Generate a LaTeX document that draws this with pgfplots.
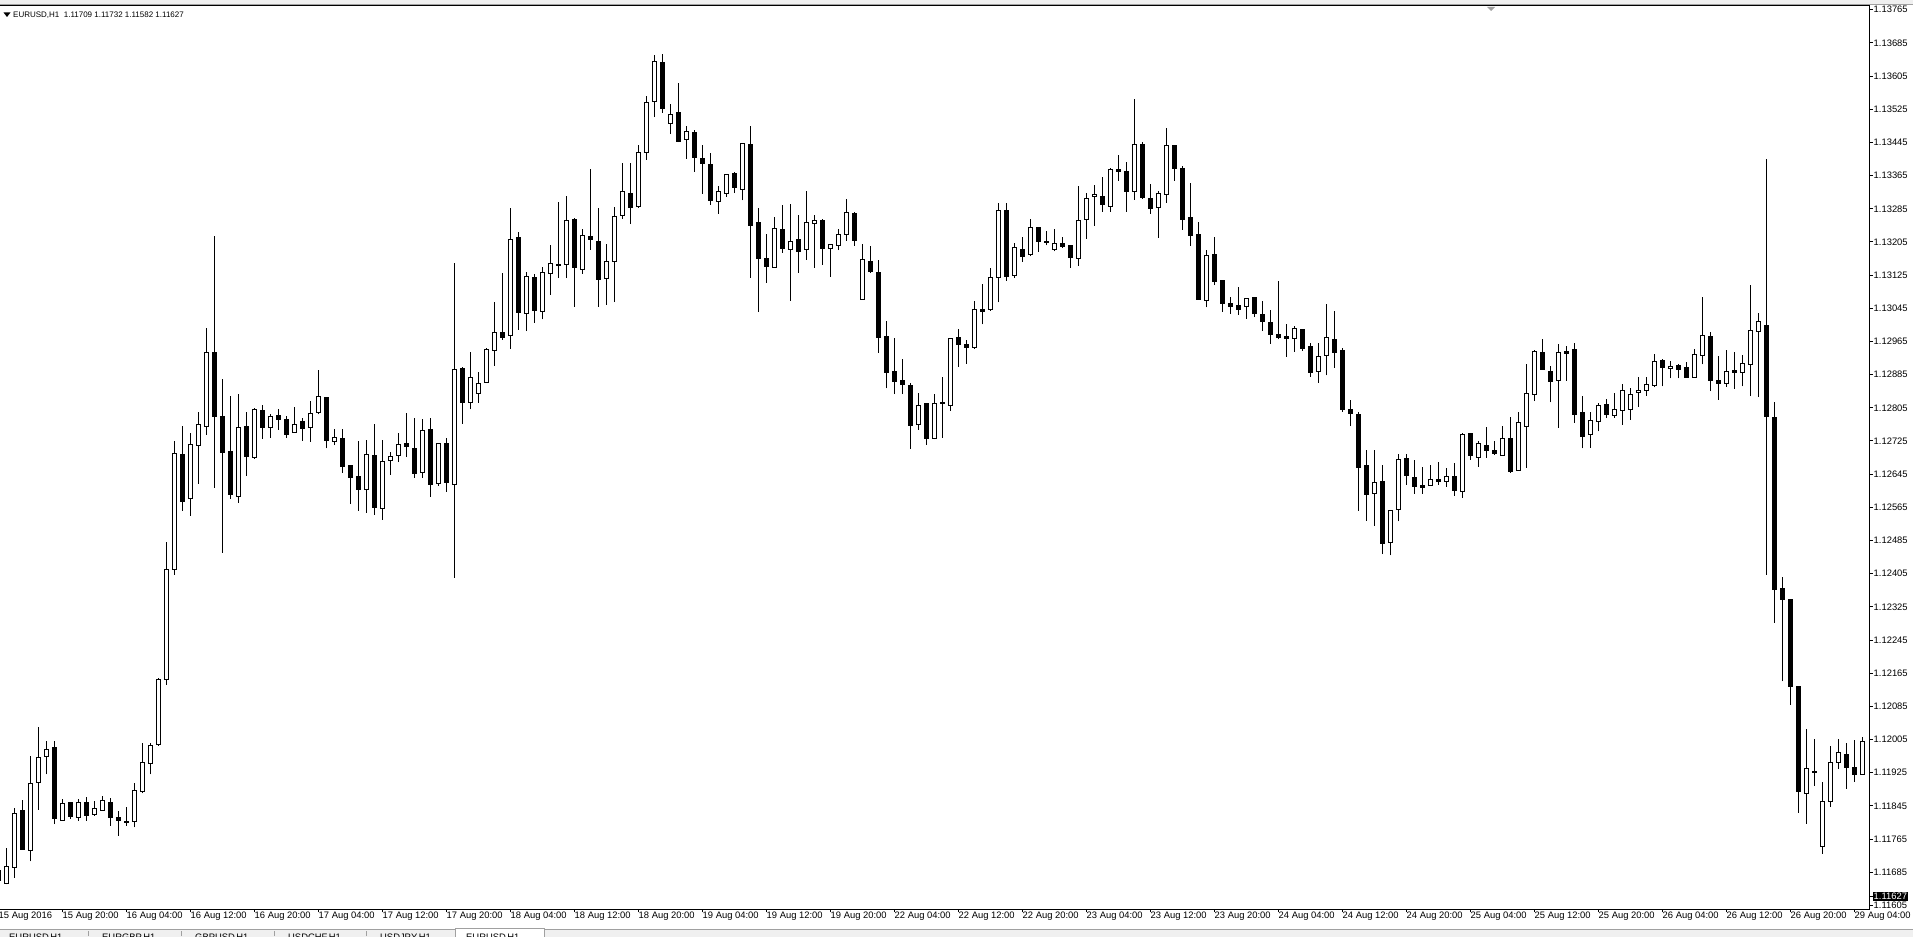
\documentclass[border=0pt]{standalone}
\usepackage{fontspec}
\setmainfont{Liberation Sans}
\usepackage{pgfplots}
\usepackage{pgfplotstable}
\pgfplotsset{compat=1.18}
\newcommand\tf{\fontsize{9.4bp}{10bp}\selectfont}
\newcommand\hf{\fontsize{8bp}{9bp}\selectfont}
\definecolor{tabgrey}{RGB}{240,240,240}
\definecolor{tabline}{RGB}{160,160,160}
\pgfplotstableread{
k o h l c
-1 1.11689 1.11695 1.11655 1.11664
0 1.11658 1.11744 1.11656 1.11700
1 1.11697 1.11839 1.11672 1.11827
2 1.11833 1.11859 1.11739 1.11739
3 1.11738 1.11965 1.11711 1.11899
4 1.11902 1.12035 1.11836 1.11962
5 1.11965 1.12002 1.11921 1.11981
6 1.11987 1.12002 1.11801 1.11814
7 1.11810 1.11862 1.11810 1.11851
8 1.11854 1.11854 1.11814 1.11819
9 1.11817 1.11862 1.11809 1.11854
10 1.11852 1.11866 1.11809 1.11821
11 1.11825 1.11857 1.11821 1.11839
12 1.11834 1.11869 1.11834 1.11858
13 1.11854 1.11864 1.11797 1.11817
14 1.11816 1.11833 1.11773 1.11809
15 1.11806 1.11842 1.11797 1.11807
16 1.11808 1.11900 1.11793 1.11883
17 1.11879 1.11997 1.11875 1.11950
18 1.11948 1.11996 1.11921 1.11991
19 1.11993 1.12153 1.11990 1.12150
20 1.12149 1.12482 1.12137 1.12416
21 1.12416 1.12725 1.12402 1.12695
22 1.12693 1.12761 1.12557 1.12579
23 1.12586 1.12744 1.12545 1.12717
24 1.12715 1.12794 1.12622 1.12765
25 1.12760 1.12997 1.12740 1.12939
26 1.12939 1.13219 1.12612 1.12784
27 1.12784 1.12874 1.12456 1.12697
28 1.12700 1.12834 1.12586 1.12596
29 1.12591 1.12838 1.12576 1.12758
30 1.12760 1.12794 1.12641 1.12687
31 1.12685 1.12805 1.12682 1.12802
32 1.12799 1.12811 1.12731 1.12757
33 1.12758 1.12789 1.12733 1.12785
34 1.12787 1.12802 1.12752 1.12776
35 1.12777 1.12785 1.12733 1.12740
36 1.12746 1.12807 1.12746 1.12765
37 1.12772 1.12781 1.12725 1.12755
38 1.12758 1.12822 1.12723 1.12792
39 1.12793 1.12895 1.12789 1.12833
40 1.12830 1.12830 1.12707 1.12726
41 1.12724 1.12754 1.12715 1.12734
42 1.12731 1.12754 1.12649 1.12663
43 1.12666 1.12666 1.12573 1.12637
44 1.12640 1.12725 1.12557 1.12608
45 1.12608 1.12727 1.12552 1.12693
46 1.12690 1.12766 1.12547 1.12564
47 1.12563 1.12727 1.12535 1.12676
48 1.12678 1.12698 1.12644 1.12687
49 1.12690 1.12744 1.12674 1.12717
50 1.12718 1.12793 1.12686 1.12712
51 1.12707 1.12781 1.12636 1.12646
52 1.12649 1.12778 1.12636 1.12751
53 1.12753 1.12781 1.12591 1.12620
54 1.12623 1.12719 1.12617 1.12719
55 1.12719 1.12732 1.12602 1.12625
56 1.12621 1.13154 1.12395 1.12898
57 1.12900 1.12903 1.12766 1.12817
58 1.12818 1.12940 1.12801 1.12879
59 1.12840 1.12891 1.12817 1.12864
60 1.12867 1.12949 1.12866 1.12946
61 1.12944 1.13060 1.12906 1.12987
62 1.12987 1.13130 1.12969 1.12975
63 1.12980 1.13287 1.12948 1.13211
64 1.13216 1.13229 1.12993 1.13034
65 1.13032 1.13133 1.12990 1.13122
66 1.13120 1.13128 1.13010 1.13039
67 1.13038 1.13145 1.13018 1.13132
68 1.13129 1.13198 1.13078 1.13153
69 1.13149 1.13301 1.13118 1.13150
70 1.13151 1.13316 1.13118 1.13257
71 1.13260 1.13262 1.13049 1.13143
72 1.13139 1.13236 1.13128 1.13221
73 1.13219 1.13381 1.13186 1.13211
74 1.13207 1.13287 1.13049 1.13114
75 1.13117 1.13200 1.13054 1.13158
76 1.13158 1.13289 1.13060 1.13267
77 1.13269 1.13395 1.13261 1.13327
78 1.13322 1.13395 1.13248 1.13288
79 1.13291 1.13439 1.13288 1.13421
80 1.13421 1.13557 1.13403 1.13542
81 1.13544 1.13657 1.13506 1.13641
82 1.13637 1.13658 1.13516 1.13526
83 1.13490 1.13538 1.13465 1.13513
84 1.13518 1.13588 1.13446 1.13448
85 1.13452 1.13484 1.13406 1.13472
86 1.13468 1.13475 1.13374 1.13408
87 1.13407 1.13438 1.13321 1.13394
88 1.13391 1.13419 1.13295 1.13305
89 1.13302 1.13340 1.13273 1.13327
90 1.13321 1.13368 1.13314 1.13368
91 1.13370 1.13373 1.13323 1.13336
92 1.13332 1.13443 1.13305 1.13443
93 1.13440 1.13484 1.13119 1.13244
94 1.13251 1.13287 1.13036 1.13165
95 1.13164 1.13224 1.13107 1.13145
96 1.13144 1.13265 1.13144 1.13238
97 1.13235 1.13294 1.13179 1.13189
98 1.13186 1.13297 1.13063 1.13207
99 1.13211 1.13270 1.13131 1.13182
100 1.13186 1.13327 1.13162 1.13253
101 1.13249 1.13269 1.13143 1.13256
102 1.13257 1.13260 1.13150 1.13190
103 1.13189 1.13199 1.13121 1.13199
104 1.13196 1.13236 1.13185 1.13223
105 1.13223 1.13309 1.13208 1.13276
106 1.13274 1.13278 1.13196 1.13208
107 1.13067 1.13200 1.13067 1.13163
108 1.13158 1.13195 1.13131 1.13133
109 1.13132 1.13162 1.12938 1.12974
110 1.12977 1.13014 1.12852 1.12890
111 1.12893 1.12973 1.12838 1.12868
112 1.12871 1.12923 1.12838 1.12861
113 1.12859 1.12864 1.12706 1.12762
114 1.12765 1.12841 1.12752 1.12811
115 1.12816 1.12816 1.12716 1.12731
116 1.12731 1.12838 1.12729 1.12816
117 1.12818 1.12879 1.12733 1.12815
118 1.12810 1.12973 1.12798 1.12973
119 1.12975 1.12995 1.12904 1.12957
120 1.12957 1.12969 1.12911 1.12950
121 1.12950 1.13063 1.12948 1.13043
122 1.13043 1.13104 1.13006 1.13037
123 1.13042 1.13142 1.13039 1.13120
124 1.13120 1.13299 1.13059 1.13281
125 1.13281 1.13299 1.13112 1.13122
126 1.13124 1.13202 1.13118 1.13192
127 1.13187 1.13218 1.13157 1.13170
128 1.13174 1.13261 1.13170 1.13241
129 1.13241 1.13241 1.13181 1.13206
130 1.13204 1.13231 1.13197 1.13205
131 1.13187 1.13236 1.13182 1.13202
132 1.13202 1.13217 1.13191 1.13194
133 1.13196 1.13198 1.13143 1.13167
134 1.13166 1.13340 1.13148 1.13257
135 1.13260 1.13323 1.13213 1.13310
136 1.13314 1.13342 1.13244 1.13320
137 1.13315 1.13361 1.13278 1.13296
138 1.13291 1.13383 1.13278 1.13380
139 1.13379 1.13415 1.13353 1.13375
140 1.13376 1.13398 1.13278 1.13326
141 1.13327 1.13550 1.13307 1.13441
142 1.13441 1.13447 1.13309 1.13312
143 1.13310 1.13345 1.13273 1.13285
144 1.13289 1.13328 1.13215 1.13322
145 1.13320 1.13479 1.13300 1.13438
146 1.13438 1.13438 1.13353 1.13382
147 1.13383 1.13387 1.13235 1.13259
148 1.13264 1.13347 1.13196 1.13220
149 1.13223 1.13253 1.13066 1.13066
150 1.13063 1.13186 1.13047 1.13173
151 1.13175 1.13216 1.13101 1.13109
152 1.13111 1.13111 1.13037 1.13056
153 1.13057 1.13072 1.13032 1.13049
154 1.13051 1.13096 1.13029 1.13043
155 1.13050 1.13071 1.13020 1.13069
156 1.13072 1.13072 1.13024 1.13032
157 1.13031 1.13062 1.12990 1.13013
158 1.13011 1.13040 1.12960 1.12981
159 1.12981 1.13111 1.12970 1.12975
160 1.12978 1.13007 1.12928 1.12972
161 1.12973 1.13002 1.12940 1.12997
162 1.12994 1.12994 1.12943 1.12948
163 1.12952 1.12961 1.12880 1.12890
164 1.12893 1.12961 1.12866 1.12929
165 1.12932 1.13055 1.12883 1.12975
166 1.12970 1.13039 1.12902 1.12938
167 1.12944 1.12950 1.12795 1.12802
168 1.12802 1.12824 1.12761 1.12791
169 1.12790 1.12795 1.12557 1.12662
170 1.12666 1.12703 1.12533 1.12596
171 1.12599 1.12703 1.12521 1.12625
172 1.12628 1.12666 1.12452 1.12477
173 1.12481 1.12558 1.12449 1.12558
174 1.12560 1.12694 1.12531 1.12681
175 1.12683 1.12694 1.12620 1.12642
176 1.12638 1.12679 1.12598 1.12616
177 1.12617 1.12662 1.12598 1.12613
178 1.12618 1.12667 1.12618 1.12633
179 1.12633 1.12674 1.12620 1.12627
180 1.12628 1.12660 1.12615 1.12640
181 1.12640 1.12672 1.12593 1.12605
182 1.12603 1.12744 1.12588 1.12741
183 1.12744 1.12744 1.12680 1.12690
184 1.12686 1.12724 1.12663 1.12719
185 1.12715 1.12759 1.12685 1.12703
186 1.12703 1.12725 1.12692 1.12695
187 1.12690 1.12761 1.12690 1.12731
188 1.12731 1.12782 1.12649 1.12651
189 1.12654 1.12794 1.12654 1.12770
190 1.12760 1.12911 1.12661 1.12840
191 1.12838 1.12944 1.12821 1.12941
192 1.12939 1.12971 1.12897 1.12897
193 1.12893 1.12905 1.12818 1.12868
194 1.12871 1.12958 1.12757 1.12939
195 1.12940 1.12953 1.12870 1.12936
196 1.12945 1.12961 1.12769 1.12789
197 1.12794 1.12834 1.12707 1.12736
198 1.12741 1.12794 1.12709 1.12775
199 1.12772 1.12816 1.12748 1.12811
200 1.12813 1.12826 1.12780 1.12789
201 1.12787 1.12841 1.12781 1.12801
202 1.12799 1.12862 1.12764 1.12847
203 1.12801 1.12852 1.12776 1.12838
204 1.12842 1.12879 1.12808 1.12847
205 1.12847 1.12879 1.12834 1.12862
206 1.12858 1.12935 1.12854 1.12917
207 1.12920 1.12923 1.12857 1.12903
208 1.12900 1.12917 1.12876 1.12905
209 1.12908 1.12910 1.12876 1.12898
210 1.12903 1.12915 1.12879 1.12879
211 1.12879 1.12947 1.12879 1.12934
212 1.12932 1.13072 1.12910 1.12980
213 1.12977 1.12987 1.12845 1.12871
214 1.12870 1.12930 1.12825 1.12864
215 1.12864 1.12944 1.12856 1.12893
216 1.12894 1.12940 1.12851 1.12889
217 1.12891 1.12933 1.12857 1.12913
218 1.12910 1.13101 1.12833 1.12991
219 1.12989 1.13034 1.12831 1.13014
220 1.13004 1.13405 1.12402 1.12784
221 1.12782 1.12819 1.12287 1.12367
222 1.12370 1.12396 1.12145 1.12342
223 1.12342 1.12342 1.12089 1.12134
224 1.12133 1.12133 1.11828 1.11879
225 1.11876 1.12031 1.11802 1.11936
226 1.11929 1.12006 1.11894 1.11925
227 1.11747 1.11902 1.11730 1.11856
228 1.11855 1.11989 1.11842 1.11950
229 1.11949 1.12006 1.11934 1.11974
230 1.11969 1.11996 1.11886 1.11938
231 1.11938 1.12003 1.11903 1.11920
232 1.11921 1.12011 1.11921 1.12000
}\candles
\pgfplotstablegetrowsof{\candles}
\pgfmathtruncatemacro\lastrow{\pgfplotsretval-1}
\begin{document}
\begin{tikzpicture}
\useasboundingbox (0,0) rectangle (1913bp,937bp);
\fill[white] (0,0) rectangle (1913bp,937bp);
% top strip (window edge)
\fill[tabgrey] (0,933bp) rectangle (1913bp,937bp);
\draw[tabline, line width=1bp] (0,932.5bp) -- (1913bp,932.5bp);
\begin{axis}[
  at={(-1.5bp,27.5bp)}, anchor=south west,
  scale only axis, width=1871bp, height=904bp,
  xmin=-1, xmax=232.875, ymin=1.1159515, ymax=1.1377524,
  axis line style={line width=1bp, black},
  tick style={line width=1bp, black},
  tick align=outside,
  major tick length=3bp,
  ytick pos=right, yticklabel pos=right,
  xtick pos=bottom,
  ytick={1.11605,1.11685,1.11765,1.11845,1.11925,1.12005,1.12085,1.12165,1.12245,1.12325,1.12405,1.12485,1.12565,1.12645,1.12725,1.12805,1.12885,1.12965,1.13045,1.13125,1.13205,1.13285,1.13365,1.13445,1.13525,1.13605,1.13685,1.13765},
  yticklabels={1.11605,1.11685,1.11765,1.11845,1.11925,1.12005,1.12085,1.12165,1.12245,1.12325,1.12405,1.12485,1.12565,1.12645,1.12725,1.12805,1.12885,1.12965,1.13045,1.13125,1.13205,1.13285,1.13365,1.13445,1.13525,1.13605,1.13685,1.13765},
  xtick={-1,7,...,231},
  xticklabels={15 Aug 2016,15 Aug 20:00,16 Aug 04:00,16 Aug 12:00,16 Aug 20:00,17 Aug 04:00,17 Aug 12:00,17 Aug 20:00,18 Aug 04:00,18 Aug 12:00,18 Aug 20:00,19 Aug 04:00,19 Aug 12:00,19 Aug 20:00,22 Aug 04:00,22 Aug 12:00,22 Aug 20:00,23 Aug 04:00,23 Aug 12:00,23 Aug 20:00,24 Aug 04:00,24 Aug 12:00,24 Aug 20:00,25 Aug 04:00,25 Aug 12:00,25 Aug 20:00,26 Aug 04:00,26 Aug 12:00,26 Aug 20:00,29 Aug 04:00},
  yticklabel style={font=\tf, anchor=west, inner sep=0pt, xshift=1bp},
  xticklabel style={font=\tf, anchor=north west, inner sep=0pt, xshift=0bp, yshift=1bp},
  extra y ticks={1.11627}, extra y tick labels={1.11627},
  extra y tick style={yticklabel style={fill=black, text=white, inner xsep=1bp, inner ysep=1bp, xshift=-1bp}},
]
\pgfplotsforeachungrouped \i in {0,...,\lastrow}{%
  \pgfplotstablegetelem{\i}{k}\of\candles \let\ck\pgfplotsretval
  \pgfplotstablegetelem{\i}{o}\of\candles \let\co\pgfplotsretval
  \pgfplotstablegetelem{\i}{h}\of\candles \let\ch\pgfplotsretval
  \pgfplotstablegetelem{\i}{l}\of\candles \let\cl\pgfplotsretval
  \pgfplotstablegetelem{\i}{c}\of\candles \let\cc\pgfplotsretval
  \pgfmathsetmacro\xa{\ck-0.25}%
  \pgfmathsetmacro\xb{\ck+0.25}%
  \pgfmathtruncatemacro\isdown{\cc<\co}%
  \ifnum\isdown=1 \def\fc{black}\else\def\fc{white}\fi
  \edef\temp{%
    \noexpand\addplot[black, line width=1bp, forget plot] coordinates {(\ck,\cl) (\ck,\ch)};
    \noexpand\addplot[draw=black, fill=\fc, line width=1bp, forget plot] coordinates {(\xa,\co) (\xb,\co) (\xb,\cc) (\xa,\cc)} -- cycle;%
  }%
  \temp
}
\end{axis}
% header
\fill (3.5bp,924.5bp) -- (10.5bp,924.5bp) -- (7bp,920bp) -- cycle;
\node[anchor=west, inner sep=0pt, font=\hf] at (13bp,922bp) {EURUSD,H1\ \ 1.11709 1.11732 1.11582 1.11627};
% chart shift marker
\fill[tabline] (1487bp,930bp) -- (1495bp,930bp) -- (1491bp,926bp) -- cycle;
% bottom tab bar
\fill[tabgrey] (0,0) rectangle (1913bp,7bp);
\draw[tabline, line width=1bp] (0,7.5bp) -- (1913bp,7.5bp);
\fill[white] (455bp,0) rectangle (545bp,8bp);
\draw[tabline, line width=1bp] (455.5bp,0) -- (455.5bp,8bp) -- (544.5bp,8bp) -- (544.5bp,0);
\foreach \sx in {88.5,181.5,274.5,366.5} {\draw[tabline, line width=1bp] (\sx bp,1bp) -- (\sx bp,6bp);}
\begin{scope}
\clip (0,0) rectangle (1913bp,7bp);
\foreach \tx/\tt in {9/EURUSD\,H1,102/EURGBP\,H1,195/GBPUSD\,H1,288/USDCHF\,H1,380/USDJPY\,H1,466/EURUSD\,H1}{%
  \node[anchor=base west, inner sep=0pt, font=\tf] at (\tx bp,-3bp) {\tt};}
\end{scope}
\end{tikzpicture}
\end{document}
